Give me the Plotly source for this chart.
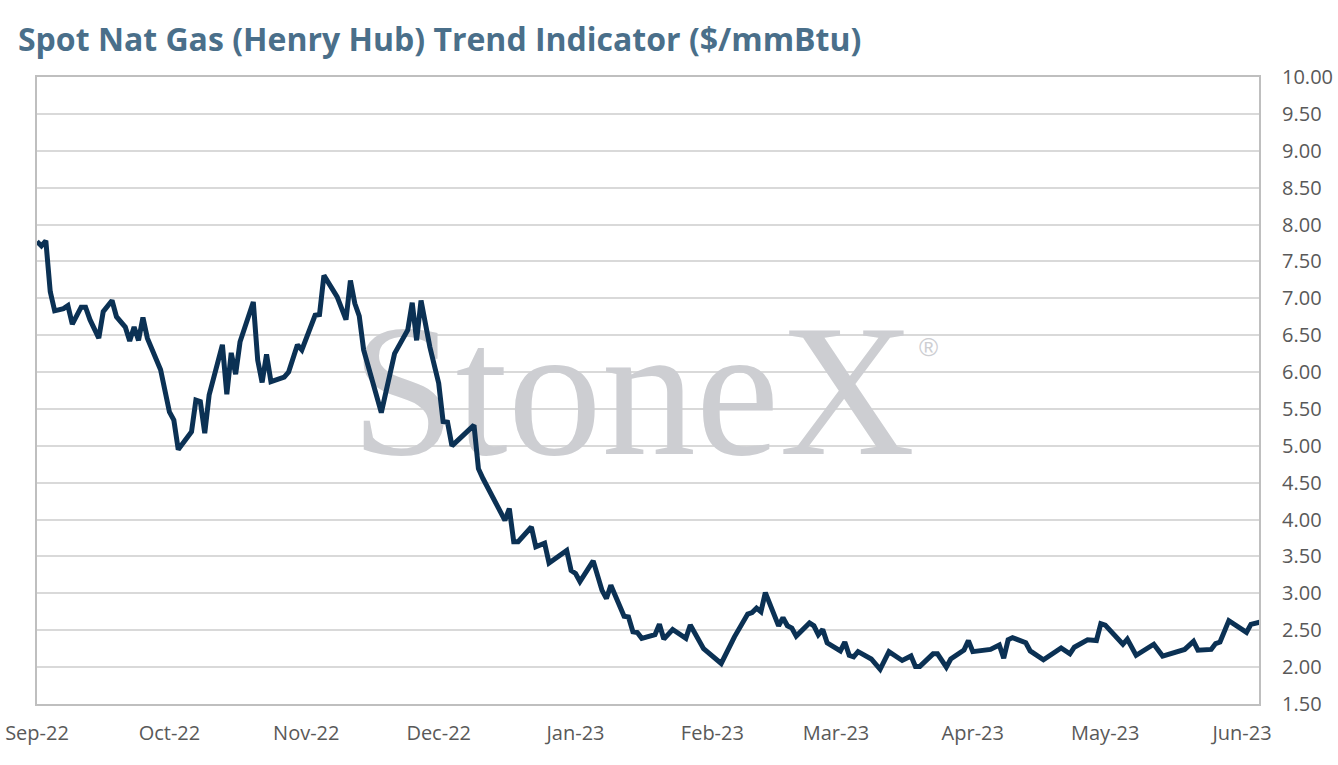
import plotly.graph_objects as go

# ---- data ----
dates = [
    "2022-09-01", "2022-09-02", "2022-09-03", "2022-09-04", "2022-09-05", "2022-09-07", "2022-09-08",
    "2022-09-09", "2022-09-11", "2022-09-12", "2022-09-13", "2022-09-15", "2022-09-16", "2022-09-17",
    "2022-09-18", "2022-09-19", "2022-09-21", "2022-09-22", "2022-09-23", "2022-09-24", "2022-09-25",
    "2022-09-26", "2022-09-29", "2022-10-01", "2022-10-02", "2022-10-03", "2022-10-06", "2022-10-07",
    "2022-10-08", "2022-10-09", "2022-10-10", "2022-10-13", "2022-10-14", "2022-10-15", "2022-10-16",
    "2022-10-17", "2022-10-20", "2022-10-21", "2022-10-22", "2022-10-23", "2022-10-24", "2022-10-27",
    "2022-10-28", "2022-10-30", "2022-10-31", "2022-11-03", "2022-11-04", "2022-11-05", "2022-11-08",
    "2022-11-10", "2022-11-11", "2022-11-12", "2022-11-13", "2022-11-14", "2022-11-17", "2022-11-18",
    "2022-11-21", "2022-11-24", "2022-11-25", "2022-11-26", "2022-11-27", "2022-11-29", "2022-12-01",
    "2022-12-02", "2022-12-03", "2022-12-04", "2022-12-09", "2022-12-10", "2022-12-11", "2022-12-12",
    "2022-12-16", "2022-12-17", "2022-12-18", "2022-12-19", "2022-12-22", "2022-12-23", "2022-12-25",
    "2022-12-26", "2022-12-30", "2022-12-31", "2023-01-01", "2023-01-02", "2023-01-05", "2023-01-07",
    "2023-01-08", "2023-01-09", "2023-01-12", "2023-01-13", "2023-01-14", "2023-01-15", "2023-01-16",
    "2023-01-19", "2023-01-20", "2023-01-21", "2023-01-23", "2023-01-26", "2023-01-27", "2023-01-30",
    "2023-02-03", "2023-02-06", "2023-02-09", "2023-02-10", "2023-02-11", "2023-02-12", "2023-02-13",
    "2023-02-16", "2023-02-17", "2023-02-18", "2023-02-19", "2023-02-20", "2023-02-23", "2023-02-24",
    "2023-02-25", "2023-02-26", "2023-02-27", "2023-03-02", "2023-03-03", "2023-03-04", "2023-03-05",
    "2023-03-06", "2023-03-09", "2023-03-11", "2023-03-13", "2023-03-16", "2023-03-18", "2023-03-19",
    "2023-03-20", "2023-03-23", "2023-03-24", "2023-03-26", "2023-03-27", "2023-03-30", "2023-03-31",
    "2023-04-01", "2023-04-03", "2023-04-05", "2023-04-07", "2023-04-08", "2023-04-09", "2023-04-10",
    "2023-04-13", "2023-04-14", "2023-04-17", "2023-04-21", "2023-04-23", "2023-04-24", "2023-04-27",
    "2023-04-29", "2023-04-30", "2023-05-01", "2023-05-05", "2023-05-06", "2023-05-08", "2023-05-12",
    "2023-05-14", "2023-05-19", "2023-05-21", "2023-05-22", "2023-05-25", "2023-05-26", "2023-05-27",
    "2023-05-29", "2023-06-02", "2023-06-03", "2023-06-05",
]
prices = [
    7.77, 7.71, 7.78, 7.09, 6.83, 6.86, 6.90,
    6.65, 6.88, 6.88, 6.71, 6.46, 6.82, 6.91,
    6.97, 6.75, 6.61, 6.42, 6.61, 6.43, 6.74,
    6.46, 6.03, 5.46, 5.35, 4.95, 5.19, 5.62,
    5.60, 5.17, 5.69, 6.37, 5.70, 6.26, 5.97,
    6.41, 6.95, 6.16, 5.86, 6.24, 5.87, 5.93,
    6.00, 6.37, 6.30, 6.77, 6.78, 7.31, 7.02,
    6.71, 7.24, 6.93, 6.76, 6.30, 5.67, 5.45,
    6.25, 6.57, 6.94, 6.43, 6.97, 6.34, 5.85,
    5.33, 5.32, 5.00, 5.28, 4.69, 4.56, 4.45,
    3.99, 4.15, 3.70, 3.70, 3.90, 3.63, 3.68,
    3.41, 3.58, 3.31, 3.27, 3.16, 3.44, 3.04,
    2.93, 3.11, 2.69, 2.68, 2.48, 2.47, 2.39,
    2.44, 2.58, 2.38, 2.51, 2.39, 2.57, 2.25,
    2.05, 2.41, 2.72, 2.74, 2.80, 2.75, 3.01,
    2.56, 2.67, 2.56, 2.53, 2.42, 2.60, 2.56,
    2.44, 2.51, 2.33, 2.22, 2.34, 2.16, 2.14,
    2.21, 2.11, 1.97, 2.21, 2.09, 2.15, 2.01,
    2.01, 2.18, 2.18, 2.00, 2.11, 2.23, 2.36,
    2.21, 2.23, 2.24, 2.30, 2.12, 2.37, 2.40,
    2.33, 2.22, 2.10, 2.26, 2.18, 2.27, 2.37,
    2.36, 2.59, 2.57, 2.31, 2.38, 2.16, 2.31,
    2.15, 2.24, 2.35, 2.23, 2.24, 2.32, 2.34,
    2.63, 2.47, 2.58, 2.61,
]
y_ticks = [1.5, 2.0, 2.5, 3.0, 3.5, 4.0, 4.5, 5.0, 5.5, 6.0, 6.5, 7.0, 7.5, 8.0, 8.5, 9.0, 9.5, 10.0]
title_text = "Spot Nat Gas (Henry Hub) Trend Indicator ($/mmBtu)"

# ---- styling ----
LINE_COLOR = "#0b3154"
GRID_COLOR = "#d9d9d9"
BORDER_COLOR = "#bfbfbf"
TICK_COLOR = "#595959"
TITLE_COLOR = "#4a6f8a"
WM_COLOR = "#cdced2"
WM_POS = ("2023-01-14", 5.53)
WM_REG_POS = ("2023-03-22", 6.30)

fig = go.Figure()

# watermark (drawn first so the price line sits above it)
fig.add_trace(go.Scatter(
    x=[WM_POS[0]], y=[WM_POS[1]], mode="text", text=["StoneX"],
    textposition="middle center",
    textfont=dict(family="Liberation Serif", size=188, color=WM_COLOR),
    hoverinfo="skip", showlegend=False,
))
fig.add_trace(go.Scatter(
    x=[WM_REG_POS[0]], y=[WM_REG_POS[1]], mode="text", text=["®"],
    textposition="middle center",
    textfont=dict(family="Liberation Sans", size=26, color=WM_COLOR),
    hoverinfo="skip", showlegend=False,
))

fig.add_trace(go.Scatter(
    x=dates, y=prices, mode="lines",
    line=dict(color=LINE_COLOR, width=5),
    hoverinfo="skip", showlegend=False,
))

fig.update_layout(
    width=1338, height=765,
    paper_bgcolor="white", plot_bgcolor="white",
    margin=dict(l=37, r=79, t=77, b=61, autoexpand=False),
    title=dict(
        text=f"<b>{title_text}</b>",
        x=0.01345, xref="container", xanchor="left",
        y=0.9477, yref="container", yanchor="middle",
        font=dict(family="Open Sans", size=32, color=TITLE_COLOR),
    ),
    font=dict(family="Open Sans", color=TICK_COLOR),
    hovermode=False,
)

fig.update_xaxes(
    type="date",
    range=["2022-09-01", "2023-06-04 20:00"],
    tick0="2022-09-01", dtick="M1", tickformat="%b-%y",
    ticks="", showgrid=False, automargin=False,
    showline=True, linecolor=BORDER_COLOR, linewidth=2, mirror=True,
    tickfont=dict(family="Open Sans", size=20, color=TICK_COLOR),
    ticklabelstandoff=10, ticklabeloverflow="allow",
)
fig.update_yaxes(
    side="right",
    range=[1.5, 10.0], automargin=False,
    tickmode="array", tickvals=y_ticks, ticktext=[f"{v:.2f}" for v in y_ticks],
    showgrid=True, gridcolor=GRID_COLOR, gridwidth=1.5,
    showline=True, linecolor=BORDER_COLOR, linewidth=2, mirror=True,
    ticks="", zeroline=False,
    tickfont=dict(family="Open Sans", size=20, color=TICK_COLOR),
    ticklabelstandoff=17, ticklabeloverflow="allow",
)

# remove the page's default body margin so the figure sits at the window origin
fig.write_html(
    "out.html",
    config={"displayModeBar": False},
    post_script="document.body.style.margin='0';",
)
